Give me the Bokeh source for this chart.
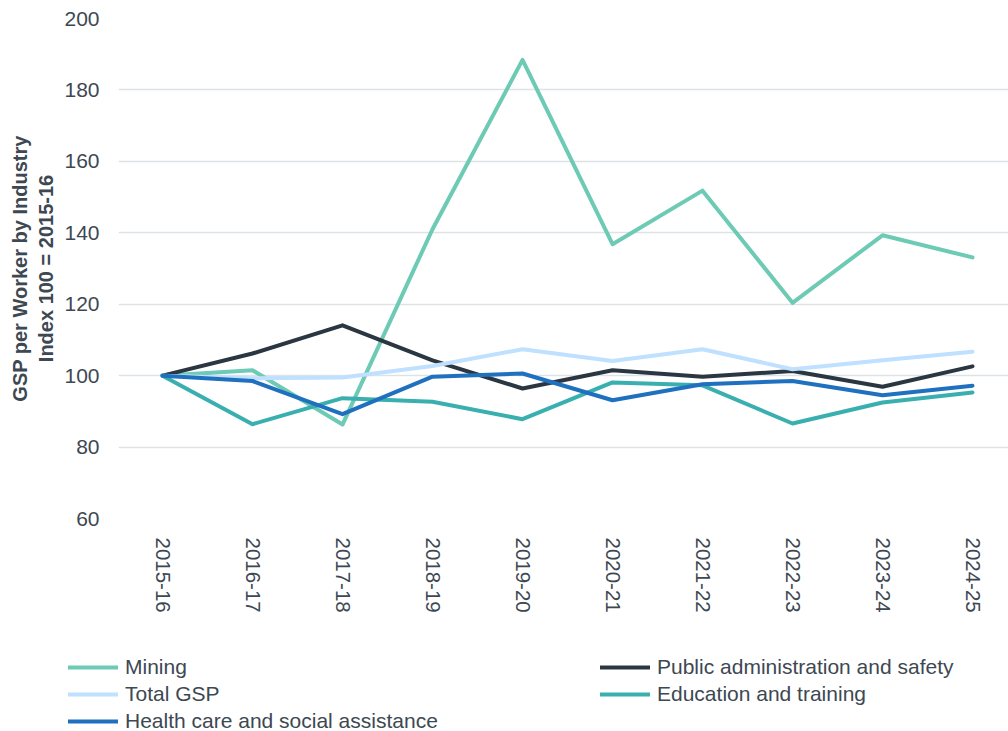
from bokeh.plotting import figure
from bokeh.models import Range1d, FixedTicker, Legend, LegendItem
from bokeh.embed import file_html
from bokeh.resources import INLINE

years = ["2015-16", "2016-17", "2017-18", "2018-19", "2019-20",
         "2020-21", "2021-22", "2022-23", "2023-24", "2024-25"]
mining = [100, 101.5, 86.3, 141.0, 188.4, 136.8, 151.8, 120.4, 139.3, 133.1]
public_admin = [100, 106.2, 114.1, 104.3, 96.4, 101.5, 99.7, 101.3, 96.9, 102.6]
total_gsp = [100, 99.3, 99.5, 102.7, 107.4, 104.1, 107.4, 101.8, 104.3, 106.7]
education = [100, 86.4, 93.7, 92.7, 87.8, 98.1, 97.3, 86.6, 92.5, 95.3]
health = [100, 98.5, 89.2, 99.7, 100.6, 93.1, 97.6, 98.5, 94.5, 97.2]
y_ticks = [60, 80, 100, 120, 140, 160, 180, 200]

FONT = "Liberation Sans"
TXT = "#3d4852"

xs = list(range(len(years)))

series = [
    ("Mining", mining, "#6ccab5"),
    ("Public administration and safety", public_admin, "#2a3641"),
    ("Total GSP", total_gsp, "#bfe0ff"),
    ("Education and training", education, "#3aafb0"),
    ("Health care and social assistance", health, "#1f70bf"),
]

# ---- main chart ----
p = figure(width=1008, height=640, output_backend="svg", toolbar_location=None,
           x_range=Range1d(-0.489, 9.4), y_range=Range1d(60, 200),
           min_border_left=118, min_border_right=0, min_border_top=18,
           min_border_bottom=122)
p.outline_line_color = None
p.background_fill_color = "white"
p.border_fill_color = "white"

p.xaxis.ticker = FixedTicker(ticks=xs)
p.xaxis.major_label_overrides = {i: y for i, y in enumerate(years)}
p.xaxis.major_label_orientation = "vertical"
p.xaxis.axis_line_color = None
p.xaxis.major_tick_line_color = None
p.xaxis.minor_tick_line_color = None
p.xaxis.major_tick_out = 0
p.xaxis.major_label_standoff = 19
p.xaxis.major_label_text_font = FONT
p.xaxis.major_label_text_font_size = "20.5px"
p.xaxis.major_label_text_color = TXT
p.xgrid.grid_line_color = None

p.yaxis.ticker = FixedTicker(ticks=y_ticks)
p.yaxis.axis_line_color = None
p.yaxis.major_tick_line_color = None
p.yaxis.minor_tick_line_color = None
p.yaxis.major_tick_out = 0
p.yaxis.major_label_standoff = 19
p.yaxis.major_label_text_font = FONT
p.yaxis.major_label_text_font_size = "21px"
p.yaxis.major_label_text_color = TXT
p.yaxis.axis_label = "GSP per Worker by Industry\nIndex 100 = 2015-16"
p.yaxis.axis_label_text_font = FONT
p.yaxis.axis_label_text_font_size = "20px"
p.yaxis.axis_label_text_font_style = "bold"
p.yaxis.axis_label_text_color = TXT
p.yaxis.axis_label_standoff = 4
p.ygrid.grid_line_color = "#dde2e7"
p.ygrid.grid_line_width = 1.5

for name, vals, col in series:
    p.line(xs, vals, line_color=col, line_width=4, line_cap="round", line_join="round")

# ---- legend strip (separate root, frame covers whole strip) ----
q = figure(width=1008, height=91, output_backend="svg", toolbar_location=None,
           x_range=Range1d(1000, 1001), y_range=Range1d(1000, 1001),
           min_border_left=0, min_border_right=0, min_border_top=0, min_border_bottom=0)
q.axis.visible = False
q.grid.visible = False
q.outline_line_color = None
q.background_fill_color = "white"
q.border_fill_color = "white"

legend_renderers = {}
for name, vals, col in series:
    legend_renderers[name] = q.line(xs, vals, line_color=col, line_width=4, line_cap="round")

def make_legend(names, loc):
    lg = Legend(items=[LegendItem(label=n, renderers=[legend_renderers[n]]) for n in names],
                location=loc, orientation="vertical")
    lg.label_text_font = FONT
    lg.label_text_font_size = "21px"
    lg.label_text_color = TXT
    lg.glyph_width = 50
    lg.glyph_height = 20
    lg.label_height = 20
    lg.spacing = 3
    lg.padding = 0
    lg.margin = 0
    lg.label_standoff = 7
    lg.border_line_color = None
    lg.background_fill_alpha = 0
    return lg

q.add_layout(make_legend(["Mining", "Total GSP", "Health care and social assistance"], (68, -2)), "center")
q.add_layout(make_legend(["Public administration and safety", "Education and training"], (600, 25)), "center")

open("out.html", "w").write(file_html([p, q], INLINE))
